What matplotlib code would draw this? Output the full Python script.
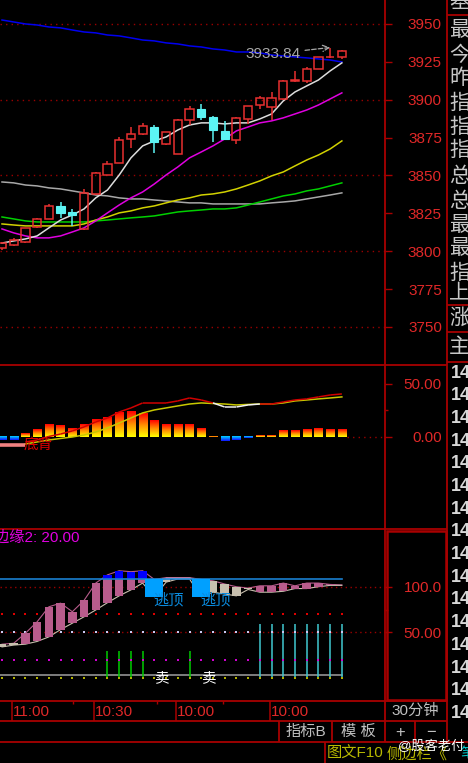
import numpy as np
import matplotlib.pyplot as plt
from matplotlib.patches import Rectangle
from matplotlib.colors import LinearSegmentedColormap

plt.rcParams['font.family'] = ['Liberation Sans', 'Noto Sans CJK SC', 'DejaVu Sans']

# 30-minute K-line bars, oldest first
opens = [3802.1, 3804.1, 3806.1, 3816.0, 3821.3, 3829.9, 3825.9, 3814.7, 3837.8, 3850.3,
         3858.3, 3874.1, 3877.4, 3882.0, 3870.8, 3864.2, 3886.6, 3893.9, 3888.6, 3879.4,
         3873.4, 3887.3, 3896.5, 3895.2, 3900.5, 3912.4, 3912.4, 3920.3, 3928.0, 3928.2]
highs = [3806.0, 3808.5, 3815.5, 3822.0, 3831.0, 3832.5, 3827.9, 3841.1, 3852.0, 3859.6,
         3875.4, 3882.0, 3884.7, 3883.3, 3879.0, 3887.0, 3895.9, 3897.2, 3889.0, 3886.0,
         3888.5, 3896.0, 3902.5, 3905.1, 3913.0, 3919.0, 3921.6, 3928.5, 3933.84, 3932.5]
lows = [3801.0, 3803.5, 3805.5, 3815.0, 3821.0, 3822.0, 3816.7, 3814.0, 3837.0, 3850.0,
        3858.0, 3868.2, 3877.0, 3864.9, 3870.0, 3864.0, 3883.3, 3886.6, 3872.1, 3873.4,
        3870.8, 3884.0, 3893.9, 3886.6, 3900.0, 3912.0, 3911.1, 3920.0, 3927.5, 3926.9]
closes = [3805.4, 3807.4, 3815.3, 3821.3, 3829.9, 3825.2, 3823.9, 3838.4, 3851.7, 3857.6,
          3873.4, 3877.4, 3882.7, 3872.1, 3878.7, 3886.6, 3893.9, 3888.6, 3880.0, 3874.1,
          3888.0, 3895.9, 3901.2, 3901.2, 3912.4, 3913.0, 3920.3, 3928.2, 3928.5, 3932.2]

# moving averages
ma_white = [3805.4, 3806.8, 3808.1, 3810.1, 3815.4, 3820.6, 3823.9, 3827.9, 3835.2, 3840.4,
            3850.3, 3861.6, 3869.5, 3872.8, 3875.4, 3880.0, 3883.3, 3884.7, 3884.7, 3884.0,
            3884.7, 3884.7, 3887.3, 3890.6, 3899.2, 3905.1, 3909.1, 3913.0, 3919.0, 3924.3]
ma_magenta = [3814.7, 3812.1, 3810.1, 3808.8, 3808.8, 3810.1, 3812.7, 3815.4, 3820.0, 3825.3,
              3830.5, 3835.2, 3839.1, 3844.4, 3850.3, 3855.6, 3861.6, 3865.5, 3869.5, 3874.1,
              3879.4, 3882.0, 3884.7, 3886.0, 3888.0, 3890.6, 3893.2, 3896.5, 3900.5, 3904.5]
ma_yellow = [3818.0, 3817.3, 3816.7, 3816.7, 3816.7, 3816.7, 3816.7, 3818.0, 3820.6, 3822.6,
             3825.3, 3826.6, 3828.6, 3829.9, 3831.9, 3833.8, 3835.2, 3837.1, 3837.8, 3839.1,
             3841.1, 3843.7, 3846.4, 3849.7, 3852.3, 3856.3, 3860.2, 3863.5, 3867.5, 3872.8]
ma_green = [3822.6, 3821.3, 3820.0, 3819.3, 3819.3, 3819.3, 3819.3, 3819.3, 3820.0, 3820.6,
            3821.3, 3822.0, 3822.6, 3823.3, 3824.6, 3825.9, 3826.6, 3827.2, 3827.9, 3827.9,
            3828.6, 3830.5, 3832.5, 3834.5, 3836.5, 3837.8, 3839.8, 3841.1, 3843.1, 3845.1]
ma_gray = [3845.7, 3845.1, 3843.7, 3843.1, 3841.8, 3841.1, 3839.8, 3838.5, 3837.1, 3836.5,
           3835.2, 3834.5, 3834.5, 3833.8, 3833.2, 3832.5, 3831.9, 3831.9, 3831.2, 3831.2,
           3831.2, 3831.2, 3831.2, 3831.9, 3832.5, 3833.2, 3834.5, 3835.8, 3837.1, 3838.5]
ma_blue = [3952.6, 3951.3, 3950.0, 3949.3, 3948.0, 3947.4, 3946.0, 3944.7, 3944.1, 3942.7,
           3942.1, 3940.8, 3939.4, 3938.8, 3937.5, 3936.8, 3935.5, 3934.8, 3933.5, 3932.8,
           3931.5, 3931.5, 3930.9, 3929.5, 3928.9, 3928.2, 3927.6, 3926.9, 3926.2, 3924.9]
high_label = '3933.84'

# MACD panel
nan = np.nan
macd_hist = [-3.0, -3.0, 3.0, 7.0, 11.7, 10.4, 8.0, 11.7, 16.4, 18.6,
             23.0, 23.6, 22.0, 15.1, 12.0, 12.0, 12.0, 8.0, 0.6, -4.3,
             -3.0, -1.0, 1.2, 1.2, 5.7, 5.7, 7.0, 8.0, 7.0, 7.0]
macd_dif = [nan, nan, -5.0, -3.1, 0.2, 2.5, 5.4, 9.2, 13.9, 17.6,
            23.3, 27.1, 31.8, 31.8, 31.8, 33.7, 36.5, 34.6, 31.8, 28.0,
            28.0, 29.9, 30.8, 30.8, 32.7, 34.6, 35.6, 37.5, 39.3, 40.3]
macd_dea = [nan, nan, -6.9, -5.0, -3.1, -1.7, -0.3, 1.6, 4.4, 8.2,
            12.9, 17.6, 22.4, 25.2, 27.1, 29.0, 30.8, 31.8, 31.3, 30.8,
            29.9, 30.4, 30.8, 30.8, 31.8, 33.7, 34.6, 35.6, 36.5, 37.5]
div_level = -7.8

# third panel (box indicator)
box_top = [37, 38, 49, 61.6, 78, 82, 72.6, 85, 104, 113,
           117.5, 116.5, 117.5, 108, 110, 110, 110, 108, 106.5, 103,
           100, 98.5, 101, 101, 104, 101, 104, 104, 102.5, 102]
box_bot = [34, 36, 37, 40, 45, 53, 60, 67, 74.5, 82.5,
           90, 96.5, 104, 89, 105, 108.5, 108.5, 89, 94, 92,
           90, 97, 94, 94, 95, 98, 98, 100, 101.5, 101.5]
box_kind = ['d', 'd', 'u', 'u', 'u', 'u', 'u', 'u', 'u', 'u',
            'u', 'u', 'u', 'x', 'd', 'd', 'd', 'x', 'd', 'd',
            'd', 'd', 'u', 'u', 'u', 'u', 'u', 'u', 'u', 'u']
blue_level = 108.4
red_level, white_level, edge2_level, zero_level, gray_level = 70, 50, 20, 0, 3
green_idx = [9, 10, 11, 12, 16]
green_top = 29
cyan_idx = [22, 23, 24, 25, 26, 27, 28, 29]
cyan_top = 59

time_idx = [1, 8, 15, 23]
time_labels = ['11:00', '10:30', '10:00', '10:00']

side_chars = ['基', '最', '今', '昨', '指', '指', '指', '总', '总', '最', '最', '指', '上', '涨', '主']
side_y = [1, 30, 55, 78, 103, 127, 150, 176, 201, 225, 248, 273, 292, 318, 347]

n = len(opens)
idx = np.arange(n)
W, H = 468, 763
XLIM = (-0.17, 32.68)
AXIS_RED = '#a80000'
LABEL_RED = '#e02828'
GRID_RED = '#9a0000'
K_RED = '#e83030'
K_CYAN = '#5cf4f4'

fig = plt.figure(figsize=(W / 100, H / 100), dpi=100, facecolor='black')


def panel(top, bottom, left=0, right=385):
    ax = fig.add_axes([left / W, 1 - bottom / H, (right - left) / W, (bottom - top) / H])
    ax.set_facecolor('black')
    for s in ax.spines.values():
        s.set_visible(False)
    ax.set_xticks([])
    return ax


def right_ticks(ax, major, labels, minor):
    ax.yaxis.tick_right()
    ax.set_yticks(major, labels)
    ax.set_yticks(minor, minor=True)
    ax.tick_params(axis='y', which='major', length=5, width=1, color=AXIS_RED,
                   pad=36, labelsize=11, labelcolor=LABEL_RED)
    ax.tick_params(axis='y', which='minor', length=2.5, width=1, color=AXIS_RED)
    for t in ax.get_yticklabels():
        t.set_horizontalalignment('right')


# ---- main price panel
ax1 = panel(0, 365)
for v in range(3750, 3951, 50):
    ax1.axhline(v, color=GRID_RED, lw=1, ls=(0, (1, 3)), zorder=1)
for ma, col in [(ma_blue, '#0000f0'), (ma_gray, '#a8a8a8'), (ma_green, '#00d000'),
                (ma_yellow, '#d2d200'), (ma_magenta, '#e000e0'), (ma_white, '#dcdcdc')]:
    ax1.plot(idx, ma, color=col, lw=1.1, zorder=3)

bw = 0.7
for i in idx:
    o, h, l, c = opens[i], highs[i], lows[i], closes[i]
    if c >= o:
        ax1.add_patch(Rectangle((i - bw / 2, o), bw, max(c - o, 0.5), fill=False,
                                ec=K_RED, lw=1.1, zorder=4))
        ax1.vlines(i, c, h, color=K_RED, lw=1.1, zorder=4)
        ax1.vlines(i, l, o, color=K_RED, lw=1.1, zorder=4)
    else:
        ax1.vlines(i, l, h, color=K_CYAN, lw=1.1, zorder=4)
        ax1.add_patch(Rectangle((i - bw / 2, c), bw, o - c, fc=K_CYAN, ec=K_CYAN,
                                lw=0.8, zorder=5))

top_i = int(np.argmax(highs))
ax1.annotate(high_label, xy=(top_i, highs[top_i] + 0.6), xytext=(top_i - 7.2, highs[top_i] - 3.6),
             ha='left', va='center', color='#a8a8a8', fontsize=11,
             arrowprops=dict(arrowstyle='->', color='#a8a8a8', lw=0.9, ls='--',
                             shrinkA=1, shrinkB=0))
right_ticks(ax1, list(range(3750, 3951, 25)), [str(v) for v in range(3750, 3951, 25)], [])
ax1.set_xlim(*XLIM)
ax1.set_ylim(3724.9, 3965.8)

# ---- MACD panel
ax2 = panel(365, 529)
grad = np.linspace(0, 1, 64).reshape(-1, 1)
cm_pos = LinearSegmentedColormap.from_list('pos', ['#ffff00', '#ff9000', '#ff0000'])
cm_neg = LinearSegmentedColormap.from_list('neg', ['#1010ff', '#00d8ff'])
for i, v in zip(idx, macd_hist):
    if v >= 0:
        ax2.imshow(grad, cmap=cm_pos, extent=(i - bw / 2, i + bw / 2, 0, v),
                   origin='lower', aspect='auto', zorder=2)
    else:
        ax2.imshow(grad, cmap=cm_neg, extent=(i - bw / 2, i + bw / 2, v, 0),
                   origin='lower', aspect='auto', zorder=2)
ax2.plot([n - 0.6, XLIM[1]], [0, 0], color=GRID_RED, lw=1, ls=(0, (1, 3)))
ax2.plot(idx, macd_dea, color='#c8c800', lw=1.1, zorder=3)
dif = np.array(macd_dif)
dea = np.array(macd_dea)
for i in range(n - 1):
    if np.isnan(dif[i]):
        continue
    below = dif[i] < dea[i] or dif[i + 1] < dea[i + 1]
    ax2.plot([i, i + 1], [dif[i], dif[i + 1]], color='#f0f0f0' if below else '#d00000',
             lw=1.1, zorder=4, solid_capstyle='butt')
ax2.plot([-0.5, 1.95], [div_level, div_level], color='#f08080', lw=2.6, zorder=4,
         solid_capstyle='butt')
ax2.text(3.1, div_level, '底背', color='#e00000', fontsize=10.5, ha='center', va='center',
         zorder=5)
right_ticks(ax2, [0, 50], ['0.00', '50.00'], [25])
ax2.set_xlim(*XLIM)
ax2.set_ylim(-87.1, 67.6)

# ---- third panel
ax3 = panel(529, 701)
for v in (100, 50):
    ax3.axhline(v, color=GRID_RED, lw=1, ls=(0, (1, 2.5)), zorder=1)
ax3.plot([XLIM[0], n - 1], [gray_level, gray_level], color='#a0a0a0', lw=1.1, zorder=2)
ax3.vlines(green_idx, zero_level, green_top, color='#00cc00', lw=1.1, zorder=3)
ax3.vlines(cyan_idx, zero_level, cyan_top, color='#40c8d0', lw=1.1, zorder=3)
ax3.scatter(idx, [red_level] * n, s=3, marker='s', color='#e00000', lw=0, zorder=3)
ax3.scatter(idx, [white_level] * n, s=3, marker='s', color='#c8c8f0', lw=0, zorder=3)
ax3.scatter(idx, [edge2_level] * n, s=3, marker='s', color='#d000d0', lw=0, zorder=3)
ax3.scatter(idx, [zero_level] * n, s=3, marker='s', color='#b0b000', lw=0, zorder=3)

MAUVE = '#b85c8c'
BEIGE = '#c8bfae'
ax3.plot(idx, box_top, color=MAUVE, lw=0.8, zorder=4)
ax3.plot(idx, box_bot, color=BEIGE, lw=0.8, zorder=4)
ax3.plot(idx[14:17], box_top[14:17], color='#f0f0f0', lw=1.0, zorder=6)
for i in idx:
    t, b, k = box_top[i], box_bot[i], box_kind[i]
    if k == 'x':
        ax3.add_patch(Rectangle((i - 0.77, b), 1.54, t - b, fc='#00a0ff', lw=0, zorder=7))
    elif k == 'u':
        ax3.add_patch(Rectangle((i - 0.36, b), 0.72, min(t, blue_level) - b, fc=MAUVE, lw=0, zorder=5))
        if t > blue_level:
            ax3.add_patch(Rectangle((i - 0.36, blue_level), 0.72, t - blue_level, fc='#0000ff',
                                    lw=0, zorder=5))
    else:
        ax3.add_patch(Rectangle((i - 0.36, b), 0.72, t - b, fc=BEIGE, lw=0, zorder=5))
ax3.plot([XLIM[0], n - 1], [blue_level, blue_level], color='#1a80d0', lw=1.2, zorder=6)
for i in [j for j, k in enumerate(box_kind) if k == 'x']:
    ax3.text(i + 1.2, 85, '逃顶', color='#0a8ce0', fontsize=11, ha='center', va='center', zorder=8)
    ax3.text(i + 0.6, zero_level, '卖', color='white', fontsize=10.5, ha='center', va='center',
             zorder=8)
right_ticks(ax3, [50, 100], ['50.00', '100.0'], [75])
ax3.set_xlim(*XLIM)
ax3.set_ylim(-25.3, 163.3)

# ---- time axis row
ax4 = panel(701, 721)
ax4.vlines(np.array(time_idx) - 0.12, 0, 1, color=AXIS_RED, lw=1.1)
ax4.vlines([6.1, 13.2, 18.9], 0.85, 1, color=AXIS_RED, lw=1)
for i, lab in zip(time_idx, time_labels):
    ax4.text(i - 0.04, 0.45, lab, color=LABEL_RED, fontsize=11, ha='left', va='center')
ax4.set_yticks([])
ax4.set_xlim(*XLIM)
ax4.set_ylim(0, 1)

# ---- frame and side bar
deco = fig.add_axes([0, 0, 1, 1], zorder=10)
deco.set_xlim(0, W)
deco.set_ylim(H, 0)
deco.axis('off')
LW = 1.3
deco.vlines([385, 447], 0, 742, color=AXIS_RED, lw=LW)
deco.hlines(365, 0, 447, color=AXIS_RED, lw=LW)
deco.hlines([15, 305, 332, 362], 447, 468, color=AXIS_RED, lw=LW)
deco.hlines(529, 0, 447, color=AXIS_RED, lw=LW)
deco.add_patch(Rectangle((387, 531), 59, 169, fill=False, ec=AXIS_RED, lw=1.8))
deco.hlines([701, 721], 0, 447, color=AXIS_RED, lw=LW)
deco.hlines(742, 0, 468, color=AXIS_RED, lw=LW)
deco.vlines([279, 332, 415], 721, 742, color=AXIS_RED, lw=LW)
deco.vlines(325, 742, 763, color=AXIS_RED, lw=LW)

for ch, y in zip(side_chars, side_y):
    deco.text(449, y, ch, color='#c8c8c8', fontsize=15, ha='left', va='center',
              family='Noto Sans CJK SC')
for k in range(16):
    deco.text(451, 373 + 22.7 * k, '14', color='#d8d8d8', fontsize=13, fontweight='bold',
              ha='left', va='center')

deco.text(-6, 538, '边缘2: 20.00', color='#e000e0', fontsize=11, ha='left', va='center')
deco.text(415, 711, '30分钟', color='#c0c0c0', fontsize=11, ha='center', va='center')
deco.text(306, 732, '指标B', color='#c0c0c0', fontsize=11, ha='center', va='center')
deco.text(358, 732, '模 板', color='#c0c0c0', fontsize=11, ha='center', va='center')
deco.text(400, 732, '+', color='#c0c0c0', fontsize=12, ha='center', va='center')
deco.text(431, 732, '−', color='#c0c0c0', fontsize=12, ha='center', va='center')
deco.text(327, 754, '图文F10', color='#b8b800', fontsize=11, ha='left', va='center')
deco.text(387, 754, '侧边栏《', color='#b8b800', fontsize=11, ha='left', va='center')
deco.text(398, 747, '@股客老付', color='white', fontsize=9.5, ha='left', va='center')
deco.text(460, 754, '笔', color='#00c8c8', fontsize=11, ha='left', va='center')

fig.savefig('out.png', dpi=100, facecolor='black')
